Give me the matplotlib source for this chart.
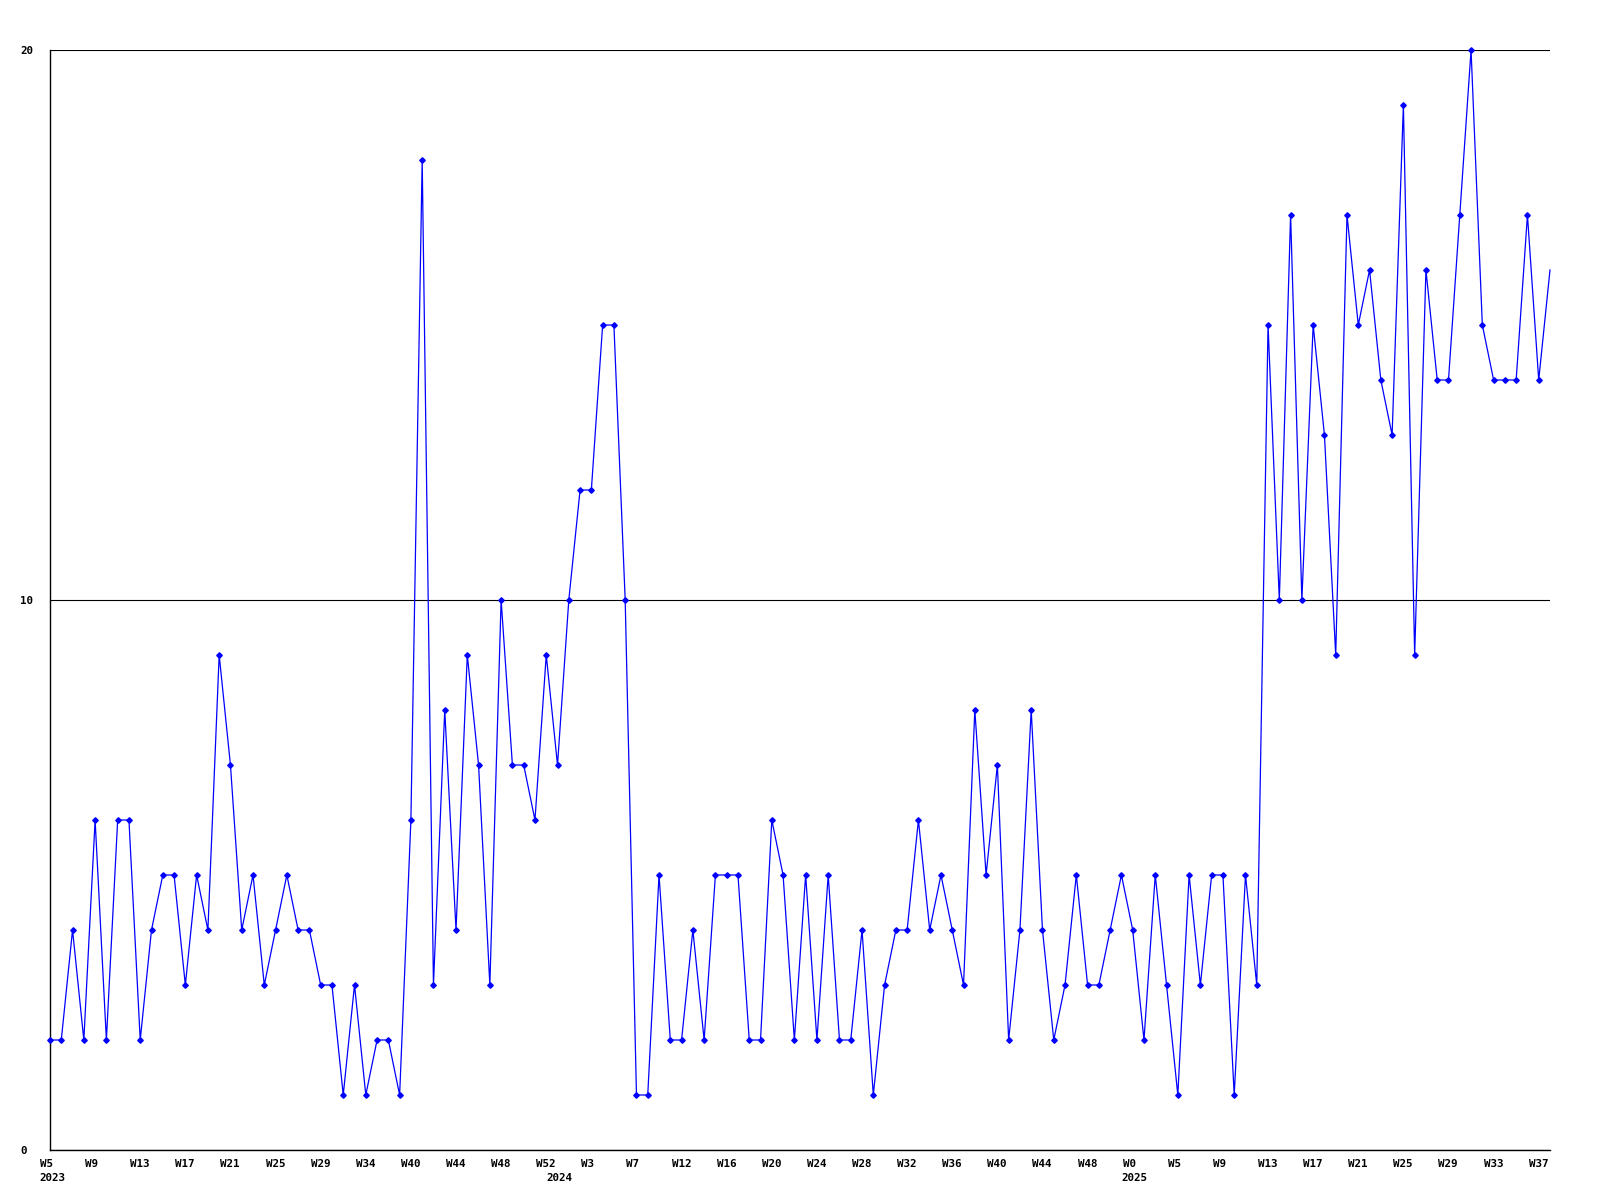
import matplotlib
matplotlib.use("Agg")
import matplotlib.pyplot as plt
from matplotlib.transforms import ScaledTranslation
from matplotlib.font_manager import FontProperties

values = [2, 2, 4, 2, 6, 2, 6, 6, 2, 4, 5, 5, 3, 5, 4, 9, 7, 4, 5, 3,
          4, 5, 4, 4, 3, 3, 1, 3, 1, 2, 2, 1, 6, 18, 3, 8, 4, 9, 7, 3,
          10, 7, 7, 6, 9, 7, 10, 12, 12, 15, 15, 10, 1, 1, 5, 2, 2, 4, 2, 5,
          5, 5, 2, 2, 6, 5, 2, 5, 2, 5, 2, 2, 4, 1, 3, 4, 4, 6, 4, 5,
          4, 3, 8, 5, 7, 2, 4, 8, 4, 2, 3, 5, 3, 3, 4, 5, 4, 2, 5, 3,
          1, 5, 3, 5, 5, 1, 5, 3, 15, 10, 17, 10, 15, 13, 9, 17, 15, 16, 14, 13,
          19, 9, 16, 14, 14, 17, 20, 15, 14, 14, 14, 17, 14, 16]

tick_labels = ["W5", "W9", "W13", "W17", "W21", "W25", "W29", "W34",
               "W40", "W44", "W48", "W52", "W3", "W7", "W12", "W16",
               "W20", "W24", "W28", "W32", "W36", "W40", "W44", "W48",
               "W0", "W5", "W9", "W13", "W17", "W21", "W25", "W29",
               "W33", "W37"]

years = ["2023", "2024", "2025"]
year_start_index = [0, 45, 96]

y_ticks = [0, 10, 20]

fig = plt.figure(figsize=(16, 12), dpi=100)
ax = fig.add_axes([50 / 1600, 50 / 1200, 1500 / 1600, 1100 / 1200])

x = list(range(len(values)))
ax.plot(x, values, color="#0000ff", linewidth=0.9, marker="D", markersize=2.8,
        markevery=list(range(len(values) - 1)), clip_on=False, zorder=3)

ax.set_xlim(0, len(values) - 1)
ax.set_ylim(0, 20)

for s in ["top", "right"]:
    ax.spines[s].set_visible(False)
for s in ["left", "bottom"]:
    ax.spines[s].set_color("black")
    ax.spines[s].set_linewidth(1.0)

ax.set_yticks(y_ticks)
ax.set_yticklabels([str(v) for v in y_ticks])
ax.yaxis.grid(True, color="black", linewidth=0.8)
ax.set_axisbelow(True)

ax.xaxis.remove_overlapping_locs = False
ax.set_xticks(list(range(0, len(values), 4))[:len(tick_labels)])
ax.set_xticklabels(tick_labels)
ax.set_xticks(year_start_index, minor=True)
ax.set_xticklabels(years, minor=True)

fp = FontProperties(family="DejaVu Sans Mono", weight="bold", size=7.8)
ax.tick_params(axis="both", which="both", length=0)
ax.tick_params(axis="x", which="major", pad=6.5)
ax.tick_params(axis="x", which="minor", pad=16.5)
ax.tick_params(axis="y", pad=0)

for lab in ax.get_xticklabels():
    lab.set_fontproperties(fp)
    lab.set_ha("left")
    lab.set_transform(lab.get_transform() + ScaledTranslation(-10 / 100, 0, fig.dpi_scale_trans))

for lab in ax.get_xticklabels(minor=True):
    lab.set_fontproperties(fp)
    lab.set_ha("left")
    lab.set_transform(lab.get_transform() + ScaledTranslation(-11 / 100, 0, fig.dpi_scale_trans))

for lab in ax.get_yticklabels():
    lab.set_fontproperties(fp)
    lab.set_ha("left")
    lab.set_transform(lab.get_transform() + ScaledTranslation(-30 / 100, 0, fig.dpi_scale_trans))

fig.savefig("out.png", dpi=100, facecolor="white")
